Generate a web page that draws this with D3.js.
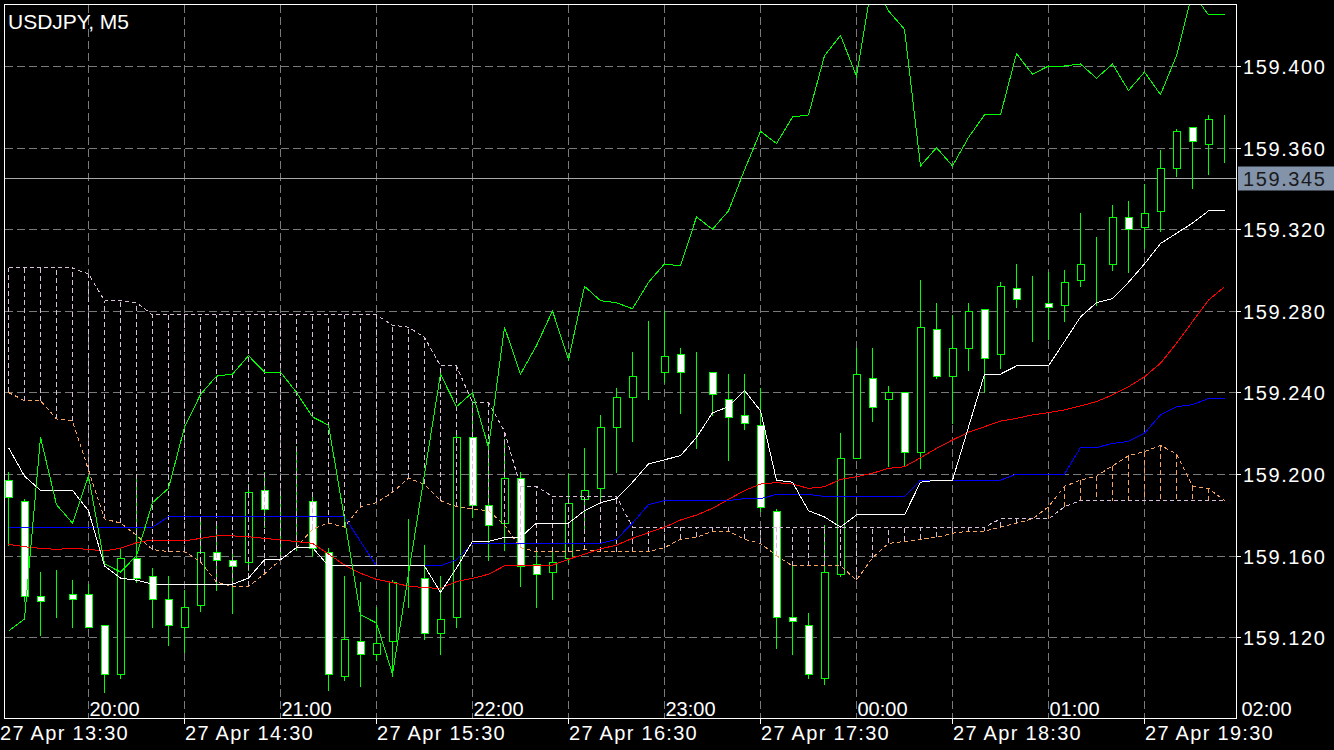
<!DOCTYPE html>
<html><head><meta charset="utf-8">
<script src="https://cdn.jsdelivr.net/npm/d3@7"></script>
<style>html,body{margin:0;padding:0;background:#000;overflow:hidden}</style>
</head><body>
<svg id="chart" width="1334" height="750"></svg>
<script>
const chartTitle = "USDJPY, M5";
const open = [159.197,159.187,159.140,159.138,159.141,159.141,159.126,159.102,159.159,159.150,
159.139,159.125,159.136,159.162,159.158,159.157,159.192,159.186,159.187,159.187,
159.162,159.101,159.118,159.112,159.118,159.148,159.149,159.122,159.130,159.218,
159.185,159.176,159.198,159.156,159.152,159.159,159.188,159.193,159.223,159.238,
159.249,159.250,159.259,159.251,159.250,159.237,159.229,159.224,159.182,159.130,
159.126,159.100,159.151,159.208,159.247,159.237,159.240,159.211,159.271,159.248,
159.262,159.281,159.259,159.291,159.284,159.284,159.283,159.295,159.303,159.303,
159.326,159.321,159.329,159.350,159.370,159.362,159.375];
const high = [159.201,159.188,159.152,159.153,159.148,159.146,159.126,159.164,159.199,159.154,
159.150,159.143,159.177,159.175,159.161,159.195,159.201,159.191,159.214,159.191,
159.164,159.150,159.147,159.135,159.148,159.178,159.165,159.150,159.219,159.236,
159.213,159.217,159.201,159.162,159.164,159.200,159.213,159.229,159.242,159.260,
159.275,159.280,159.262,159.260,159.250,159.249,159.249,159.242,159.183,159.156,
159.132,159.175,159.220,159.262,159.262,159.243,159.240,159.295,159.284,159.278,
159.284,159.281,159.294,159.303,159.297,159.299,159.300,159.328,159.316,159.332,
159.334,159.342,159.359,159.369,159.370,159.376,159.376];
const low = [159.165,159.138,159.121,159.130,159.125,159.125,159.093,159.100,159.147,159.125,
159.116,159.113,159.133,159.143,159.132,159.153,159.174,159.160,159.163,159.160,
159.094,159.099,159.096,159.109,159.101,159.135,159.119,159.112,159.125,159.179,
159.158,159.163,159.145,159.135,159.139,159.157,159.171,159.187,159.201,159.216,
159.237,159.245,159.230,159.213,159.229,159.207,159.222,159.182,159.115,159.112,
159.100,159.097,159.150,159.208,159.226,159.204,159.204,159.203,159.247,159.225,
159.251,159.240,159.252,159.282,159.265,159.266,159.275,159.292,159.283,159.300,
159.299,159.311,159.319,159.346,159.340,159.347,159.353];
const close = [159.189,159.140,159.138,159.138,159.139,159.125,159.102,159.159,159.149,159.139,
159.126,159.135,159.162,159.158,159.155,159.191,159.183,159.186,159.187,159.164,
159.102,159.119,159.112,159.117,159.147,159.148,159.122,159.129,159.218,159.185,
159.175,159.198,159.155,159.151,159.157,159.186,159.192,159.223,159.238,159.248,
159.249,159.258,159.250,159.251,159.239,159.228,159.225,159.184,159.130,159.128,
159.102,159.152,159.208,159.249,159.233,159.240,159.211,159.272,159.248,159.262,
159.280,159.257,159.292,159.286,159.284,159.282,159.294,159.303,159.303,159.326,
159.320,159.328,159.350,159.368,159.363,159.374,159.375];
const tenkan = [159.213,159.199,159.192,159.192,159.192,159.182,159.155,159.149,159.148,159.146,
159.146,159.146,159.146,159.146,159.146,159.149,159.158,159.158,159.164,159.164,
159.155,159.155,159.155,159.155,159.155,159.155,159.155,159.142,159.154,159.167,
159.167,159.169,159.169,159.176,159.176,159.176,159.182,159.186,159.188,159.196,
159.205,159.207,159.209,159.218,159.230,159.233,159.241,159.231,159.197,159.196,
159.182,159.179,159.174,159.180,159.180,159.180,159.180,159.196,159.197,159.197,
159.223,159.249,159.249,159.253,159.253,159.253,159.265,159.277,159.284,159.286,
159.294,159.303,159.313,159.318,159.323,159.329,159.329];
const kijun = [159.174,159.174,159.174,159.174,159.174,159.174,159.174,159.174,159.174,159.174,
159.179,159.179,159.179,159.179,159.179,159.179,159.179,159.179,159.179,159.179,
159.179,159.179,159.167,159.155,159.155,159.155,159.155,159.155,159.158,159.166,
159.166,159.166,159.166,159.166,159.166,159.166,159.166,159.166,159.168,159.176,
159.185,159.187,159.187,159.187,159.187,159.187,159.188,159.188,159.190,159.190,
159.190,159.189,159.189,159.189,159.189,159.189,159.189,159.197,159.197,159.197,
159.197,159.197,159.197,159.200,159.200,159.200,159.200,159.213,159.213,159.215,
159.216,159.220,159.229,159.233,159.234,159.237,159.237];
const movingAverage = [159.1656,159.1644,159.1636,159.1631,159.1636,159.1631,159.1623,159.1636,159.1664,159.1677,
159.1672,159.1672,159.1685,159.1697,159.1697,159.1693,159.1685,159.1677,159.1669,159.1661,
159.1608,159.1554,159.1514,159.1484,159.1468,159.1451,159.1443,159.1440,159.1473,159.1489,
159.1509,159.1550,159.1550,159.1550,159.1554,159.1582,159.1608,159.1633,159.1652,159.1685,
159.1713,159.1739,159.1775,159.1799,159.1832,159.1876,159.1919,159.1951,159.1958,159.1951,
159.1930,159.1938,159.1974,159.1987,159.2004,159.2028,159.2036,159.2080,159.2126,159.2167,
159.2205,159.2232,159.2260,159.2273,159.2290,159.2301,159.2314,159.2334,159.2355,159.2388,
159.2428,159.2477,159.2543,159.2641,159.2747,159.2853,159.2918];
const spanA = [159.240,159.236,159.236,159.227,159.226,159.202,159.178,159.176,159.170,159.163,
159.162,159.162,159.157,159.147,159.145,159.145,159.151,159.158,159.164,159.173,
159.176,159.174,159.184,159.186,159.191,159.198,159.195,159.187,159.184,159.183,
159.182,159.175,159.164,159.162,159.162,159.162,159.163,159.162,159.162,159.162,
159.162,159.164,159.168,159.169,159.172,159.172,159.168,159.166,159.160,159.155,
159.155,159.155,159.155,159.148,159.159,159.166,159.167,159.168,159.169,159.171,
159.172,159.172,159.174,159.176,159.178,159.184,159.194,159.197,159.199,159.204,
159.209,159.211,159.214,159.210,159.194,159.193,159.187];
const spanB = [159.301,159.301,159.301,159.301,159.301,159.298,159.285,159.285,159.284,159.278,
159.278,159.278,159.278,159.278,159.278,159.278,159.278,159.278,159.278,159.278,
159.278,159.278,159.278,159.278,159.273,159.272,159.267,159.253,159.253,159.235,
159.235,159.221,159.194,159.194,159.189,159.189,159.189,159.189,159.189,159.174,
159.174,159.174,159.174,159.174,159.174,159.174,159.174,159.174,159.174,159.174,
159.174,159.174,159.174,159.174,159.174,159.174,159.174,159.174,159.174,159.174,
159.174,159.174,159.178,159.178,159.178,159.178,159.184,159.187,159.187,159.187,
159.187,159.187,159.187,159.187,159.187,159.187,159.187];
const chikou = [159.123,159.129,159.218,159.185,159.176,159.199,159.156,159.152,159.160,159.186,
159.193,159.223,159.239,159.248,159.249,159.258,159.250,159.250,159.240,159.228,
159.224,159.178,159.131,159.127,159.102,159.151,159.200,159.249,159.233,159.240,
159.213,159.272,159.249,159.263,159.280,159.256,159.292,159.285,159.284,159.281,
159.294,159.303,159.302,159.326,159.320,159.329,159.349,159.368,159.362,159.375,
159.376,159.405,159.415,159.395,159.442,159.427,159.418,159.351,159.360,159.351,
159.365,159.376,159.376,159.406,159.396,159.400,159.400,159.401,159.394,159.401,
159.388,159.397,159.386,159.405,159.436,159.425,159.425];
const priceTicks = [159.400,159.360,159.320,159.280,159.240,159.200,159.160,159.120];
const currentPrice = 159.345;
const gridBars = [5,11,17,23,29,35,41,47,53,59,65,71];
const timeLabels = ["20:00","21:00","22:00","23:00","00:00","01:00","02:00"];
const timeLabelBars = [5,17,29,41,53,65,77];
const dateLabels = ["27 Apr 13:30","27 Apr 14:30","27 Apr 15:30","27 Apr 16:30","27 Apr 17:30","27 Apr 18:30","27 Apr 19:30"];
const dateLabelBars = [-1,11,23,35,47,59,71];

const FONT = "'Liberation Sans', Arial, Helvetica, sans-serif";
const svg = d3.select("#chart");
svg.append("rect").attr("width",1334).attr("height",750).attr("fill","#000");

const frame = {l:4.5, t:4.5, r:1236.5, b:718.5};
const n = close.length;
const x = d3.scaleLinear().domain([0, n-1]).range([8.5, 8.5 + 16*(n-1)]);
const y = d3.scaleLinear().domain([159.12, 159.40]).range([637.3, 66]);
const py = v => Math.round(y(v)) + 0.5;

svg.append("defs").append("clipPath").attr("id","plot")
  .append("rect").attr("x",frame.l).attr("y",frame.t)
  .attr("width",frame.r-frame.l).attr("height",frame.b-frame.t);

const grid = svg.append("g").attr("stroke","#7a7a7a").attr("stroke-width",1)
  .attr("stroke-dasharray","8,4").attr("shape-rendering","crispEdges");
priceTicks.forEach(p => grid.append("line").attr("x1",frame.l).attr("x2",frame.r)
  .attr("y1",py(p)).attr("y2",py(p)));
gridBars.forEach(b => grid.append("line").attr("x1",x(b)).attr("x2",x(b))
  .attr("y1",frame.t).attr("y2",frame.b));

const plot = svg.append("g").attr("clip-path","url(#plot)");

// current price line
plot.append("line").attr("x1",frame.l).attr("x2",frame.r)
  .attr("y1",py(currentPrice)).attr("y2",py(currentPrice))
  .attr("stroke","#a8a8a8").attr("stroke-width",1).attr("shape-rendering","crispEdges");

// candles
const candles = plot.append("g").attr("shape-rendering","crispEdges");
d3.range(n).forEach(i => {
  const cx = x(i);
  candles.append("line").attr("x1",cx).attr("x2",cx)
    .attr("y1",Math.round(y(high[i]))).attr("y2",Math.round(y(low[i]))+1)
    .attr("stroke","#00ff00").attr("stroke-width",1);
  const bull = close[i] >= open[i];
  const top = py(Math.max(open[i],close[i]));
  const bot = py(Math.min(open[i],close[i]));
  candles.append("rect").attr("x",cx-3).attr("width",7)
    .attr("y",top).attr("height",Math.max(0,bot-top))
    .attr("fill", bull ? "#000" : "#fff")
    .attr("stroke","#00ff00").attr("stroke-width",1);
});

// cloud hatch
const hatch = plot.append("g").attr("stroke-width",1).attr("stroke-dasharray","5,3")
  .attr("shape-rendering","crispEdges");
d3.range(n).forEach(i => {
  if (spanA[i] === spanB[i]) return;
  hatch.append("line").attr("x1",x(i)).attr("x2",x(i))
    .attr("y1",y(spanA[i])).attr("y2",y(spanB[i]))
    .attr("stroke", spanA[i] > spanB[i] ? "#f4a460" : "#d8bfd8");
});

const line = d3.line().x((d,i)=>x(i)).y(d=>y(d));
function drawLine(data, color, dash){
  const p = plot.append("path").datum(data).attr("d",line).attr("fill","none")
    .attr("stroke",color).attr("stroke-width",1).attr("shape-rendering","crispEdges");
  if (dash) p.attr("stroke-dasharray",dash);
}
drawLine(spanA, "#f4a460", "4,3");
drawLine(spanB, "#d8bfd8", "4,3");
drawLine(movingAverage, "#ff0000");
drawLine(kijun, "#0000ff");
drawLine(tenkan, "#ffffff");
drawLine(chikou, "#00ff00");

// frame
svg.append("rect").attr("x",frame.l).attr("y",frame.t)
  .attr("width",frame.r-frame.l).attr("height",frame.b-frame.t)
  .attr("fill","none").attr("stroke","#fff").attr("stroke-width",1)
  .attr("shape-rendering","crispEdges");

// right axis
const ax = svg.append("g");
priceTicks.forEach(p => {
  ax.append("line").attr("x1",frame.r).attr("x2",frame.r+4).attr("y1",py(p)).attr("y2",py(p))
    .attr("stroke","#fff").attr("shape-rendering","crispEdges");
  ax.append("text").attr("x",1243).attr("y",py(p)+7).text(p.toFixed(3))
    .attr("fill","#fff").attr("font-family",FONT).attr("font-size",20)
    .attr("letter-spacing","1.6px");
});
ax.append("rect").attr("x",1238).attr("y",py(currentPrice)-12).attr("width",96).attr("height",24)
  .attr("fill","#8293aa");
ax.append("text").attr("x",1243).attr("y",py(currentPrice)+7).text(currentPrice.toFixed(3))
  .attr("fill","#1a1a1a").attr("font-family",FONT).attr("font-size",20)
  .attr("letter-spacing","1.6px");

// bottom axis
const bx = svg.append("g");
timeLabelBars.forEach((b,k) => {
  bx.append("text").attr("x",x(b)+1).attr("y",716).text(timeLabels[k])
    .attr("fill","#fff").attr("font-family",FONT).attr("font-size",20);
});
dateLabelBars.forEach((b,k) => {
  bx.append("line").attr("x1",x(b)).attr("x2",x(b)).attr("y1",frame.b).attr("y2",frame.b+5)
    .attr("stroke","#fff").attr("shape-rendering","crispEdges");
  bx.append("text").attr("x",Math.max(0, x(b)+0.5)).attr("y",740).text(dateLabels[k])
    .attr("fill","#fff").attr("font-family",FONT).attr("font-size",20)
    .attr("letter-spacing","1.3px");
});

// title
svg.append("text").attr("x",8).attr("y",29).text(chartTitle)
  .attr("fill","#fff").attr("font-family",FONT).attr("font-size",21);
</script>
</body></html>
